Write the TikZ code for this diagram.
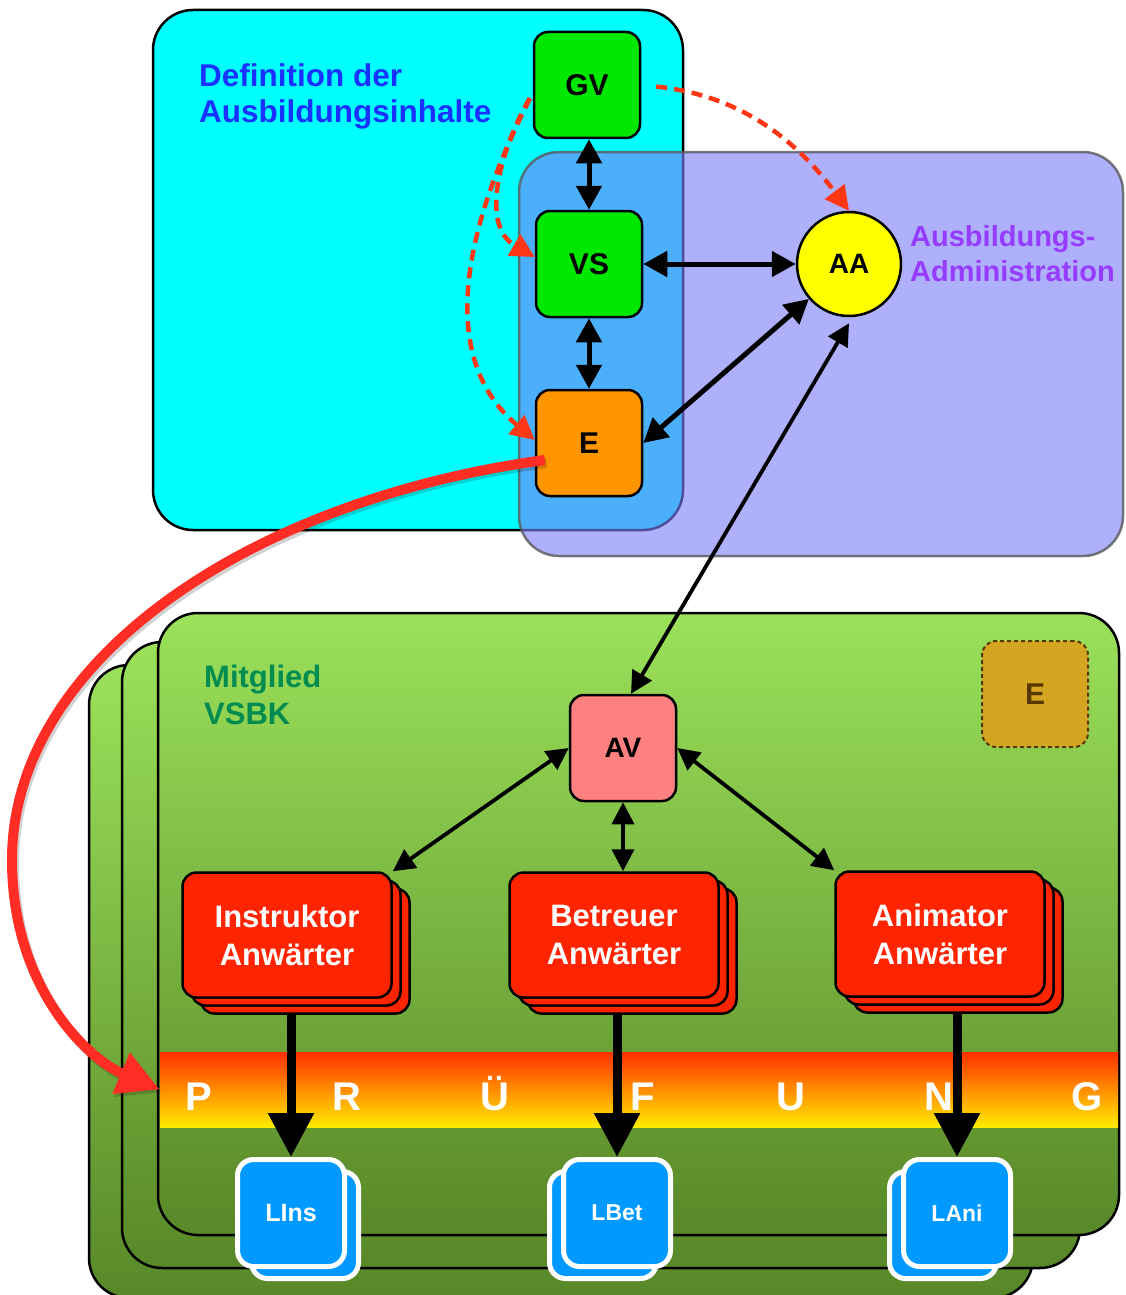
\documentclass[tikz,border=0pt]{standalone}
\usepackage{fontspec}
\setmainfont{Liberation Sans}
\usetikzlibrary{shapes.geometric,arrows.meta,positioning}

\definecolor{cyanbg}{RGB}{0,255,255}
\definecolor{adminbg}{RGB}{124,127,250}
\definecolor{gvgreen}{RGB}{0,232,0}
\definecolor{eorange}{RGB}{255,150,0}
\definecolor{aayellow}{RGB}{255,255,0}
\definecolor{avpink}{RGB}{255,128,128}
\definecolor{candred}{RGB}{255,36,0}
\definecolor{lblue}{RGB}{0,153,255}
\definecolor{deftext}{RGB}{25,50,255}
\definecolor{admtext}{RGB}{150,60,255}
\definecolor{vsbktext}{RGB}{0,140,80}
\definecolor{lightgreen}{RGB}{155,225,90}
\definecolor{darkgreen}{RGB}{88,136,40}
\definecolor{egold}{RGB}{212,165,32}
\definecolor{ebrown}{RGB}{85,55,0}
\definecolor{dashred}{RGB}{255,55,20}
\definecolor{passred}{RGB}{255,45,35}

\tikzstyle{area} = [rounded corners=40pt, line width=2.5pt, draw=black]
\tikzstyle{memberlayer} = [rounded corners=40pt, draw=black, line width=2.5pt, top color=lightgreen, bottom color=darkgreen]
\tikzstyle{band} = [rectangle, minimum width=958pt, minimum height=75pt, inner sep=0pt, top color={rgb,255:red,255;green,48;blue,0}, middle color={rgb,255:red,255;green,135;blue,0}, bottom color={rgb,255:red,255;green,235;blue,0}]
\tikzstyle{bandletter} = [anchor=base, inner sep=0pt, text=white, font=\fontsize{40}{40}\selectfont\bfseries]
\tikzstyle{unitbox} = [rectangle, rounded corners=14pt, minimum width=106pt, minimum height=106pt, draw=black, line width=2.5pt, font=\fontsize{30}{30}\selectfont\bfseries]
\tikzstyle{adminnode} = [circle, minimum size=104pt, draw=black, line width=2.5pt, fill=aayellow, font=\fontsize{28}{28}\selectfont\bfseries]
\tikzstyle{candidate} = [rectangle, rounded corners=14pt, minimum width=209pt, minimum height=125pt, draw=black, line width=2.5pt, fill=candred, text=white, align=center, font=\fontsize{31}{38}\selectfont\bfseries]
\tikzstyle{licence} = [rectangle, rounded corners=16pt, minimum width=107pt, minimum height=107pt, draw=white, line width=5pt, fill=lblue, text=white]
\tikzstyle{areatext} = [anchor=north west, inner sep=0pt, align=left, font=\fontsize{31.5}{36.5}\selectfont\bfseries]
\tikzstyle{arrow} = [line width=5pt, {Triangle[length=24pt,width=25pt]}-{Triangle[length=24pt,width=25pt]}]
\tikzstyle{thinarrow} = [line width=3.8pt, {Triangle[length=22pt,width=22pt]}-{Triangle[length=22pt,width=22pt]}]
\tikzstyle{dasharrow} = [dashred, line width=4.5pt, dash pattern=on 11pt off 7pt, -{Triangle[length=24pt,width=24pt]}]
\tikzstyle{bigarrow} = [line width=9pt, -{Triangle[length=44pt,width=44pt]}]
\tikzstyle{passage} = [passred, line width=10pt, -{Triangle[length=42pt,width=42pt]}]

\begin{document}
\begin{tikzpicture}[x=1pt, y=1pt, node distance=179pt]
\useasboundingbox (0,0) rectangle (1125,-1295);

% areas
\draw[area, fill=cyanbg] (153,-10) rectangle (683,-530);
\draw[area, fill=adminbg, fill opacity=0.62, draw=black!65, draw opacity=0.8] (519,-152) rectangle (1123,-556);
\draw[memberlayer] (89,-665) rectangle (1033,-1298);
\draw[memberlayer] (122,-642) rectangle (1080,-1268);
\draw[memberlayer] (158,-613) rectangle (1119,-1235);
\node (Band)[band] at (639,-1089.5) {};
\foreach \ch [count=\i] in {P,R,Ü,F,U,N,G}
  \node (Pr\i)[bandletter] at (199+148*\i-148,-1110) {\ch};

% definition / administration
\node (GV)[unitbox, fill=gvgreen] at (587,-85) {GV};
\node (VS)[unitbox, fill=gvgreen, below of=GV, xshift=2pt]{VS};
\node (E)[unitbox, fill=eorange, below of=VS]{E};
\node (AA)[adminnode, right of=VS, node distance=260pt]{AA};
\node (DefText)[areatext, text=deftext] at (199,-63) {Definition der\\Ausbildungsinhalte};
\node (AdmText)[areatext, text=admtext, font=\fontsize{29}{35}\selectfont\bfseries] at (910,-225) {Ausbildungs-\\Administration};

% member
\node (VsbkText)[areatext, text=vsbktext, font=\fontsize{31}{37}\selectfont\bfseries] at (204,-665) {Mitglied\\VSBK};
\node (AV)[unitbox, fill=avpink, font=\fontsize{28}{28}\selectfont\bfseries] at (623,-748) {AV};
\node (Eext)[unitbox, fill=egold, text=ebrown, draw=ebrown, line width=2pt, dash pattern=on 4pt off 3pt] at (1035,-694) {E};
\foreach \nm/\cx/\cy/\txt in {Instr/287/-935/Instruktor, Betr/614/-935/Betreuer, Anim/940/-934/Animator}{
  \node (\nm-b)[candidate] at (\cx+18,\cy-16) {};
  \node (\nm-m)[candidate] at (\cx+9,\cy-8) {};
  \node (\nm)[candidate] at (\cx,\cy) {\txt\\Anwärter};
}
\foreach \nm/\cx/\dx/\fs in {LIns/291/14/25, LBet/617/-14/23, LAni/957/-14/23}{
  \node (\nm-b)[licence] at (\cx+\dx,-1225) {};
  \node (\nm)[licence, font=\fontsize{\fs}{\fs}\selectfont\bfseries] at (\cx,-1213) {\nm};
}

% connectors
\draw[arrow] (VS.north |- GV.south) -- (VS);
\draw[arrow] (VS) -- (E);
\draw[arrow] (VS) -- (AA);
\draw[arrow] (E.east) -- (AA);
\draw[thinarrow] ([xshift=8pt]AV.north) -- ([yshift=-6pt]AA.south);
\draw[thinarrow] (AV.west) -- (Instr.north east);
\draw[thinarrow] (AV.south) -- (AV.south |- Betr.north);
\draw[thinarrow] (AV.east) -- (Anim.north west);
\draw[dasharrow, shorten <=15pt] (GV.east) to[out=-6, in=127] (AA.north);
\draw[dasharrow, shorten <=6pt] ([yshift=-8pt]GV.west) to[out=240, in=150] ([yshift=7pt]VS.west);
\draw[dasharrow, shorten <=6pt] ([yshift=-8pt]GV.west) to[out=243, in=140] ([yshift=3pt]E.west);
\draw[bigarrow] (LIns.north |- Instr-b.south) -- (LIns.north);
\draw[bigarrow] (LBet.north |- Betr-b.south) -- (LBet.north);
\draw[bigarrow] (LAni.north |- Anim-b.south) -- (LAni.north);

% passage to the exam
\draw[passage, black, opacity=0.18, transform canvas={shift={(2pt,-3pt)}}] ([shift={(10pt,-17pt)}]E.west) .. controls (250,-500) and (12,-660) .. (12,-860) .. controls (12,-990) and (90,-1060) .. (Band.west);
\draw[passage] ([shift={(10pt,-17pt)}]E.west) .. controls (250,-500) and (12,-660) .. (12,-860) .. controls (12,-990) and (90,-1060) .. (Band.west);
\end{tikzpicture}
\end{document}
